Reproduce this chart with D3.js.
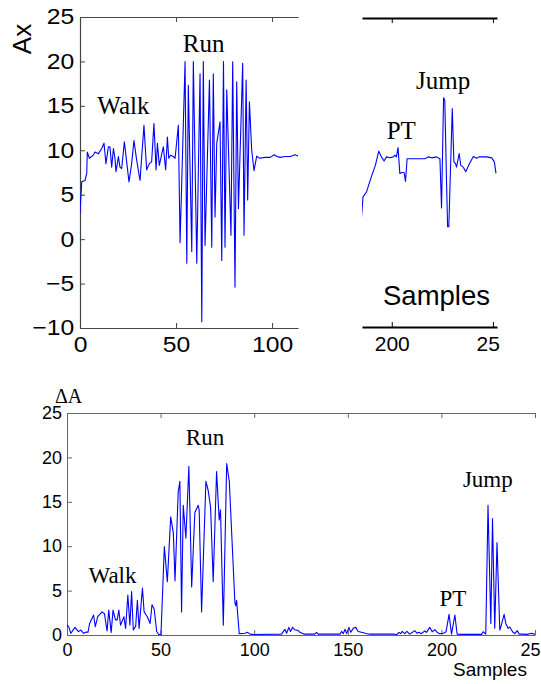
<!DOCTYPE html>
<html><head><meta charset="utf-8">
<script src="https://cdn.jsdelivr.net/npm/d3@7"></script>
<style>
html,body{margin:0;padding:0;background:#fff;}
svg{display:block;}
.tick text{font-family:"Liberation Sans",Arial,sans-serif;fill:#000;}
</style></head>
<body>
<svg id="chart" width="541" height="684"></svg>
<script>
// ---------- data ----------
// Top-left panel (Ax, walk + run), samples 0..113
const axSamplesA = [0,0.9,2.6,3.5,3.8,4.9,6.9,7.8,9.5,11.3,12.5,13.5,14.8,15.6,16.5,17.4,18.2,18.75,20.0,20.8,21.7,23.1,25.5,26.9,28.1,29.5,31.25,33.3,34.7,36.1,37.3,38.5,39.6,40.3,41.3,43.4,44.6,45.5,46.2,47.2,48.6,49.5,51.2,52.1,54.7,55.6,56.4,58.2,59.0,60.8,62.5,63.4,64.2,65.1,67.4,68.6,69.4,70.3,71.2,72.9,73.8,74.7,75.5,76.4,78.6,79.5,80.7,81.6,82.5,84.7,85.4,86.5,87.3,88.2,89.4,90.6,92.0,93.5,96.4,99.0,101.1,102.5,104.2,106.8,109.4,112.0,114.0];
const axValuesA = [2.9,6.45,6.6,7.4,9.8,9.1,9.45,9.8,9.6,10.2,10.8,8.5,10.4,10.4,8.1,10.2,9.1,7.6,9.3,8.1,7.95,10.95,6.45,8.5,11.1,8.9,6.6,12.8,7.8,8.5,8.7,13.0,7.8,10.8,8.3,10.4,7.8,11.5,9.1,9.45,9.3,9.1,12.8,-0.4,20.0,-2.7,17.3,-1.4,20.0,-2.7,18.6,-9.3,20.0,-0.7,17.9,-0.9,18.6,2.5,10.8,13.2,-2.4,20.0,-0.9,16.8,0.45,19.95,-5.4,17.7,3.45,19.8,0.45,17.9,4.4,15.45,10.0,7.7,9.35,9.1,9.2,9.2,9.5,9.3,9.2,9.3,9.3,9.5,9.3];
// Top-right panel (Ax, PT + jump), samples ~185..252
const axSamplesB = [185.0,185.8,187.5,189.1,190.2,191.9,193.6,194.9,196.2,197.4,199.0,200.7,201.5,202.3,203.1,204.0,205.1,206.1,206.8,207.6,209.0,212.3,216.4,218.0,219.7,222.1,223.8,224.6,225.6,226.2,227.1,227.6,228.2,229.9,230.7,231.5,232.0,233.3,234.1,235.3,236.6,238.3,240.3,242.0,243.1,245.3,247.0,249.4,250.7,251.5];
const axValuesB = [2.3,4.76,5.3,6.45,7.2,8.3,9.9,9.26,8.8,9.26,9.15,9.26,9.45,9.26,10.3,7.4,7.5,7.5,6.5,9.05,9.05,9.05,9.05,9.26,9.15,9.26,9.05,3.5,15.9,15.65,6.1,1.4,1.4,14.7,8.7,8.5,8.1,9.64,8.3,8.1,7.6,8.45,9.3,9.1,9.26,9.26,9.26,9.15,8.7,7.4];
// Bottom panel (ΔA), samples 0..250
const dSamples = [0,0.9,2.0,4.3,6.1,7.4,8.9,10.3,11.2,12.1,14.2,15.1,16.4,18.7,20.0,21.4,22.3,23.6,24.6,25.9,26.8,27.7,28.6,30.4,31.3,32.5,33.6,34.5,35.4,36.7,37.6,38.5,40.3,41.2,42.9,44.4,45.4,46.6,47.9,49.1,50.2,52.0,53.6,55.4,56.8,57.7,59.4,60.3,61.2,62.1,63.5,65.1,66.6,68.3,70.1,70.6,71.9,74.2,75.4,76.7,78.1,79.9,81.3,82.0,83.5,85.3,86.7,89.7,90.2,90.6,92.0,95.1,96.5,97.8,100,114.6,116.4,117.3,118.5,119.4,120.5,121.7,123.5,124.4,126.5,132.3,133.3,134.2,145.8,146.7,147.6,148.5,149.4,150.6,151.6,152.9,154.3,155.5,157.3,160.3,161.7,175.0,175.9,177.3,178.2,179.1,180.4,181.6,183.0,184.5,185.7,187.0,188.0,189.3,191.1,192.0,193.8,195.1,196.5,197.4,198.9,201.0,202.5,204.1,205.4,207.2,208.4,210.7,221.4,222.3,223.7,224.9,226.4,227.3,228.5,229.7,231.2,232.0,233.5,234.4,235.6,236.5,238.0,239.2,240.5,241.5,243.7,245.8,248.1,249.9];
const dValues = [1.13,0.94,0.19,0.86,0.38,0.56,0.19,0.34,0.3,1.3,2.25,0.94,2.06,2.6,2.4,0.45,2.8,0.3,2.8,1.7,1.7,2.8,1.1,2.06,0.75,4.5,1.1,4.9,0.56,1.0,3.9,0.75,5.3,2.6,2.06,1.3,3.4,2.9,0.4,0.05,0.05,9.95,6.0,13.3,11.5,6.1,16.1,17.3,2.6,14.6,10.9,19.0,5.4,13.8,14.6,14.1,2.6,17.3,16.3,14.4,6.0,18.4,12.95,14.1,1.1,19.3,17.3,3.6,3.3,3.9,0.15,0.2,0.3,0.1,0.05,0.1,0.64,0.2,0.86,0.4,0.86,0.6,0.5,0.3,0.1,0.1,0.3,0.1,0.1,0.4,0.15,0.64,0.15,0.86,0.3,0.75,0.86,0.4,0.3,0.15,0.1,0.1,0.0,0.3,0.15,0.4,0.15,0.4,0.1,0.3,0.5,0.2,0.3,0.15,0.45,0.3,0.86,0.37,0.6,0.37,0.15,0.2,0.37,2.33,0.1,2.25,0.1,0.07,0.07,0.37,0.1,14.6,1.3,13.1,0.75,10.4,0.56,1.1,2.33,1.3,0.75,0.9,0.37,0.15,0.5,0.1,0.1,0.07,0.2,0.07];

// tick values
const axYTicks = [-10,-5,0,5,10,15,20,25];
const axXTicksA = [0,50,100];
const axXTicksB = [200,250];
const dXTicks = [0,50,100,150,200,250];
const dYTicks = [0,5,10,15,20,25];

// annotation texts
const topLabels = [
  {t:"Walk", s:9, v:14.1},
  {t:"Run", s:53.5, v:21.1}
];
const topRightLabels = [
  {t:"PT", s:197.5, v:11.3},
  {t:"Jump", s:212, v:16.9}
];
const bottomLabels = [
  {t:"Walk", s:11.5, v:5.9},
  {t:"Run", s:63.5, v:21.4},
  {t:"PT", s:199, v:3.3},
  {t:"Jump", s:211.5, v:16.7}
];

// ---------- drawing ----------
const svg = d3.select("#chart");
const BLUE = "#0000ff";

// scales
const xA = d3.scaleLinear().domain([0,113.5]).range([80,298]);
const xB = d3.scaleLinear().domain([185.3,252]).range([362,497]);
const yT = d3.scaleLinear().domain([-10,25]).range([328,17]);
const xD = d3.scaleLinear().domain([0,250]).range([67,535]);
const yD = d3.scaleLinear().domain([0,25]).range([635,413]);

const defs = svg.append("defs");
defs.append("clipPath").attr("id","clipA").append("rect").attr("x",80).attr("y",0).attr("width",218).attr("height",340);
defs.append("clipPath").attr("id","clipB").append("rect").attr("x",362).attr("y",0).attr("width",135).attr("height",340);
defs.append("clipPath").attr("id","clipD").append("rect").attr("x",67).attr("y",400).attr("width",468).attr("height",240);

// the figure is cropped on the right: the last tick label only shows "25"
const cropFmt = d => d === 250 ? "25" : String(d);

function styleAxis(g, color, width, fs, sx){
  g.select(".domain").attr("stroke",color).attr("stroke-width",width);
  g.selectAll(".tick line").attr("stroke",color).attr("stroke-width",1);
  g.selectAll(".tick text").attr("font-size",fs);
  if (sx) g.selectAll(".tick text").attr("transform",`scale(${sx},1)`);
}

// ---- top-left panel ----
const gA = svg.append("g");
const aLeft = gA.append("g").attr("transform","translate(80,0)")
  .call(d3.axisLeft(yT).tickValues(axYTicks).tickSizeInner(-5).tickSizeOuter(0).tickPadding(5));
styleAxis(aLeft,"#444",1.2,21.5,1.15);
const aBot = gA.append("g").attr("transform","translate(0,328)")
  .call(d3.axisBottom(xA).tickValues(axXTicksA).tickSizeInner(-5).tickSizeOuter(0).tickPadding(9));
styleAxis(aBot,"#444",1.2,21.5,1.15);
const aTop = gA.append("g").attr("transform","translate(0,17)")
  .call(d3.axisTop(xA).tickValues(axXTicksA).tickSizeInner(-5).tickSizeOuter(0).tickFormat(""));
styleAxis(aTop,"#444",1.2,21);

gA.append("path").datum(axSamplesA.map((s,i)=>[s,axValuesA[i]]))
  .attr("clip-path","url(#clipA)")
  .attr("fill","none").attr("stroke",BLUE).attr("stroke-width",1.1).attr("stroke-linejoin","round")
  .attr("d", d3.line().x(d=>xA(d[0])).y(d=>yT(d[1])));

gA.append("text").text("Ax")
  .attr("transform","translate(31,39) rotate(-90)")
  .attr("text-anchor","middle")
  .attr("font-family","Liberation Sans, Arial, sans-serif").attr("font-size",26);

gA.selectAll("text.ann").data(topLabels).enter().append("text").attr("class","ann")
  .attr("x",d=>xA(d.s)).attr("y",d=>yT(d.v)).text(d=>d.t)
  .attr("font-family","Liberation Serif, Times New Roman, serif").attr("font-size",25);

// ---- top-right panel ----
const gB = svg.append("g");
const bBot = gB.append("g").attr("transform","translate(0,327)")
  .call(d3.axisBottom(xB).tickValues(axXTicksB).tickSizeInner(-5).tickSizeOuter(0).tickPadding(9).tickFormat(cropFmt));
styleAxis(bBot,"#000",2.2,21);
bBot.selectAll(".tick text").filter(d=>d===250).attr("text-anchor","start").attr("x",-17);
const bTop = gB.append("g").attr("transform","translate(0,18)")
  .call(d3.axisTop(xB).tickValues(axXTicksB).tickSizeInner(-5).tickSizeOuter(0).tickFormat(""));
styleAxis(bTop,"#000",2.2,21);

gB.append("path").datum(axSamplesB.map((s,i)=>[s,axValuesB[i]]))
  .attr("clip-path","url(#clipB)")
  .attr("fill","none").attr("stroke",BLUE).attr("stroke-width",1.1).attr("stroke-linejoin","round")
  .attr("d", d3.line().x(d=>xB(d[0])).y(d=>yT(d[1])));

gB.selectAll("text.ann").data(topRightLabels).enter().append("text").attr("class","ann")
  .attr("x",d=>xB(d.s)).attr("y",d=>yT(d.v)).text(d=>d.t)
  .attr("font-family","Liberation Serif, Times New Roman, serif").attr("font-size",25);

gB.append("text").text("Samples").attr("x",383).attr("y",305)
  .attr("font-family","Liberation Sans, Arial, sans-serif").attr("font-size",27.5);

// ---- bottom panel ----
const gD = svg.append("g");
const dLeft = gD.append("g").attr("transform","translate(67,0)")
  .call(d3.axisLeft(yD).tickValues(dYTicks).tickSizeInner(-5).tickSizeOuter(0).tickPadding(5));
styleAxis(dLeft,"#666",1,18);
const dBot = gD.append("g").attr("transform","translate(0,635)")
  .call(d3.axisBottom(xD).tickValues(dXTicks).tickSizeInner(-5).tickSizeOuter(0).tickPadding(8).tickFormat(cropFmt));
styleAxis(dBot,"#666",1,18);
dBot.selectAll(".tick text").filter(d=>d===250).attr("text-anchor","start").attr("x",-15);
const dTop = gD.append("g").attr("transform","translate(0,413)")
  .call(d3.axisTop(xD).tickValues(dXTicks).tickSizeInner(-5).tickSizeOuter(0).tickFormat(""));
styleAxis(dTop,"#666",1,18);

gD.append("path").datum(dSamples.map((s,i)=>[s,dValues[i]]))
  .attr("clip-path","url(#clipD)")
  .attr("fill","none").attr("stroke",BLUE).attr("stroke-width",1.1).attr("stroke-linejoin","round")
  .attr("d", d3.line().x(d=>xD(d[0])).y(d=>yD(d[1])));

gD.selectAll("text.ann").data(bottomLabels).enter().append("text").attr("class","ann")
  .attr("x",d=>xD(d.s)).attr("y",d=>yD(d.v)).text(d=>d.t)
  .attr("font-family","Liberation Serif, Times New Roman, serif").attr("font-size",23);

gD.append("text").text("ΔA").attr("x",55).attr("y",403)
  .attr("font-family","Liberation Serif, Times New Roman, serif").attr("font-size",20);

gD.append("text").text("Samples").attr("x",453).attr("y",676)
  .attr("font-family","Liberation Sans, Arial, sans-serif").attr("font-size",19);
</script>
</body></html>
